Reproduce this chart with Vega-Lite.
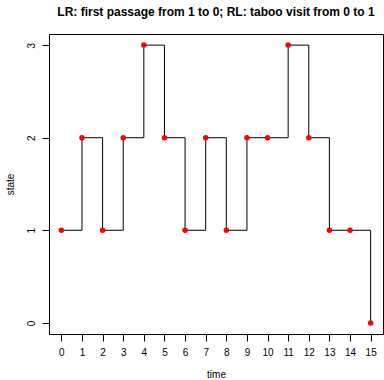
{
  "$schema": "https://vega.github.io/schema/vega-lite/v6.json",
  "width": 334,
  "height": 300,
  "autosize": {"type": "none"},
  "padding": {"left": 49, "top": 34, "right": 1, "bottom": 46},
  "background": "white",
  "config": {
    "font": "Liberation Sans",
    "view": {"stroke": "black", "strokeWidth": 1},
    "axis": {"grid": false, "domain": false, "tickColor": "black", "labelColor": "black", "titleColor": "black", "labelFont": "Liberation Sans", "titleFont": "Liberation Sans", "labelFontSize": 10, "titleFontSize": 10, "titleFontWeight": "normal", "tickSize": 7}
  },
  "title": {"text": "LR: first passage from 1 to 0; RL: taboo visit from 0 to 1", "fontSize": 12, "fontWeight": "bold", "font": "Liberation Sans", "anchor": "middle", "offset": 15, "color": "black"},
  "data": {"values": [
    {"time": 0, "state": 1}, {"time": 1, "state": 2}, {"time": 2, "state": 1}, {"time": 3, "state": 2},
    {"time": 4, "state": 3}, {"time": 5, "state": 2}, {"time": 6, "state": 1}, {"time": 7, "state": 2},
    {"time": 8, "state": 1}, {"time": 9, "state": 2}, {"time": 10, "state": 2}, {"time": 11, "state": 3},
    {"time": 12, "state": 2}, {"time": 13, "state": 1}, {"time": 14, "state": 1}, {"time": 15, "state": 0}
  ]},
  "encoding": {
    "x": {"field": "time", "type": "quantitative", "scale": {"domain": [-0.6, 15.6], "nice": false, "zero": false},
      "axis": {"values": [0,1,2,3,4,5,6,7,8,9,10,11,12,13,14,15], "labelPadding": 6, "title": "time", "titleY": 40, "titleBaseline": "middle", "labelFlush": false}},
    "y": {"field": "state", "type": "quantitative", "scale": {"domain": [-0.12, 3.12], "nice": false, "zero": false},
      "axis": {"values": [0,1,2,3], "labelAngle": 270, "labelAlign": "center", "labelBaseline": "bottom", "labelPadding": 6, "title": "state", "titleX": -39, "titleBaseline": "middle", "labelFlush": false}}
  },
  "layer": [
    {"mark": {"type": "line", "interpolate": "step-after", "color": "black", "strokeWidth": 1}},
    {"mark": {"type": "point", "filled": true, "color": "red", "size": 30, "opacity": 1}}
  ]
}
